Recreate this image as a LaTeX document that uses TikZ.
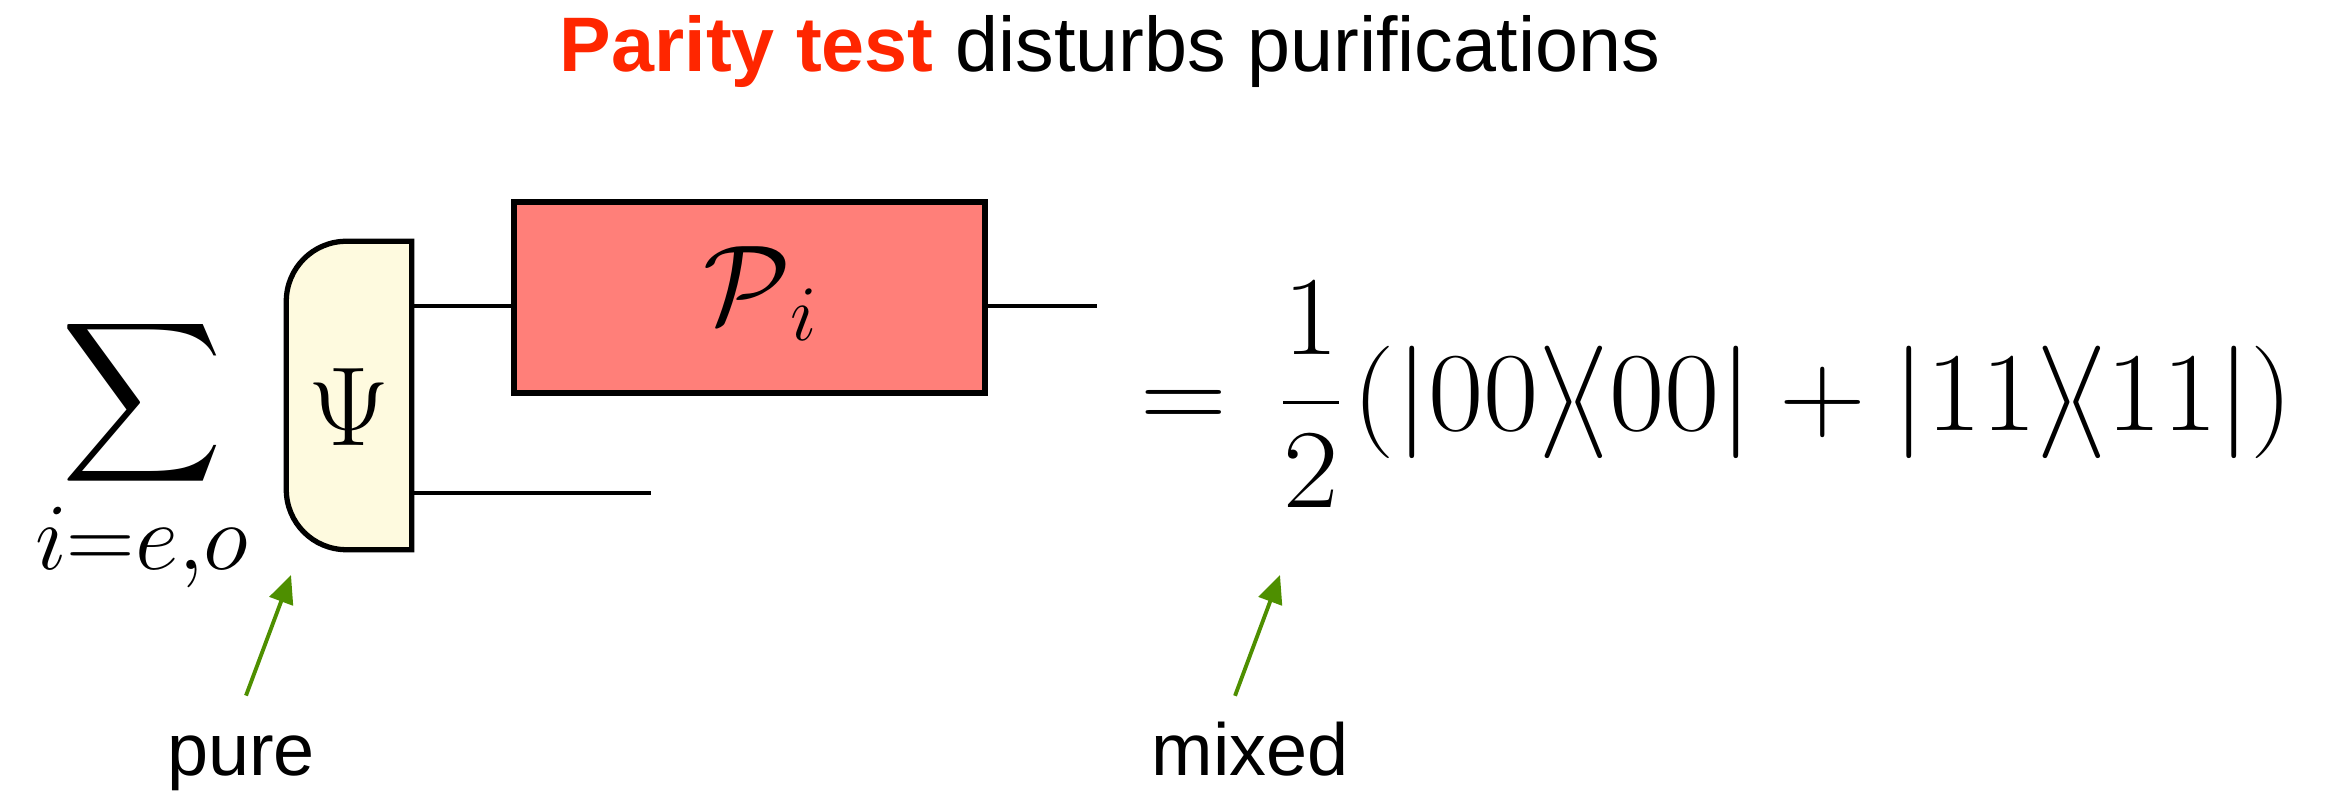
\RequirePackage{fix-cm}
\documentclass[tikz,border=0pt]{standalone}
\usepackage{fontspec}
\usepackage{amsmath}
\usetikzlibrary{arrows.meta,positioning,calc}
\newfontfamily\labelfont{Liberation Sans}
\definecolor{parred}{HTML}{FF2600}
\definecolor{projfill}{HTML}{FF7F79}
\definecolor{psifill}{HTML}{FEFADF}
\definecolor{arrgreen}{HTML}{4E8F00}

\begin{document}
\begin{tikzpicture}[
    wire/.style={line width=1.2pt},
    boxline/.style={line width=1.5pt},
    projbox/.style={rectangle,draw,boxline,fill=projfill,
        minimum width=4.71cm,minimum height=1.91cm,inner sep=0pt},
    psinode/.style={minimum width=1.24cm,minimum height=3.07cm,inner sep=0pt},
    bigmath/.style={font=\fontsize{32}{38}\selectfont,inner sep=0pt},
    lbl/.style={font=\labelfont\fontsize{21}{25}\selectfont,inner sep=0pt},
    pointer/.style={arrgreen,line width=1.1pt,
        -{Triangle[length=8pt,width=7pt]}},
  ]
  \useasboundingbox (0,0) rectangle (23.41,8.06);

  \def\r{0.6}          % corner radius of the state box

  % ============================================================= TITLE
  \node[font=\labelfont\fontsize{22}{26}\selectfont,anchor=base,inner sep=0pt]
    (title) at (11.10,7.34)
    {\textcolor{parred}{\bfseries Parity test} disturbs purifications};

  % ============================================================= SUM
  \node[bigmath] (sum) at (1.42,4.03) {\scalebox{1.28}{$\displaystyle\sum$}};
  \node[font=\fontsize{27}{31}\selectfont,inner sep=0pt] (sumidx)
    at (1.42,2.58) {$i{=}e{,}o$};

  % ============================================================= CIRCUIT
  % state box: rounded on the left only
  \node[psinode] (psi) at (3.49,4.105) {};
  \filldraw[boxline,fill=psifill]
    (psi.north east) -- ([xshift=\r cm]psi.north west)
    arc[start angle=90,end angle=180,radius=\r]
    -- ([yshift=\r cm]psi.south west)
    arc[start angle=180,end angle=270,radius=\r]
    -- (psi.south east) -- cycle;
  \node[bigmath] (psisym) at ([yshift=-0.12cm]psi.center) {$\Psi$};

  % parity projector
  \node[projbox] (proj) at (7.495,5.085) {};
  \node[bigmath] (projsym) at ([xshift=0.12cm,yshift=0.04cm]proj.center)
    {$\mathcal{P}_{\mkern2mu i}$};

  \coordinate (outA) at (10.97,5.00);
  \coordinate (outB) at (6.51,3.13);
  \draw[wire] (psi.east |- outA) -- (proj.west |- outA);
  \draw[wire] (proj.east |- outA) -- (outA);
  \draw[wire] (psi.east |- outB) -- (outB);

  % ============================================================= RESULT
  \node[bigmath,anchor=west] (mixedstate) at (11.40,4.11)
    {\scalebox{1.07}[1]{$=\mkern2.7mu\dfrac{1}{2}\mkern1.4mu
      (|00\rangle\mkern-3.5mu\langle00|+|11\rangle\mkern-3.5mu\langle11|)$}};

  % ============================================================= POINTERS
  \node[lbl,anchor=base] (pure) at (2.41,0.30) {pure};
  \node[lbl,anchor=base] (mixed) at (12.50,0.30) {mixed};
  \coordinate (puretip) at (2.91,2.31);
  \coordinate (mixedtip) at (12.80,2.31);
  \draw[pointer] ([xshift=0.05cm,yshift=0.40cm]pure.north) -- (puretip);
  \draw[pointer] ([xshift=-0.15cm,yshift=0.26cm]mixed.north) -- (mixedtip);

\end{tikzpicture}
\end{document}
